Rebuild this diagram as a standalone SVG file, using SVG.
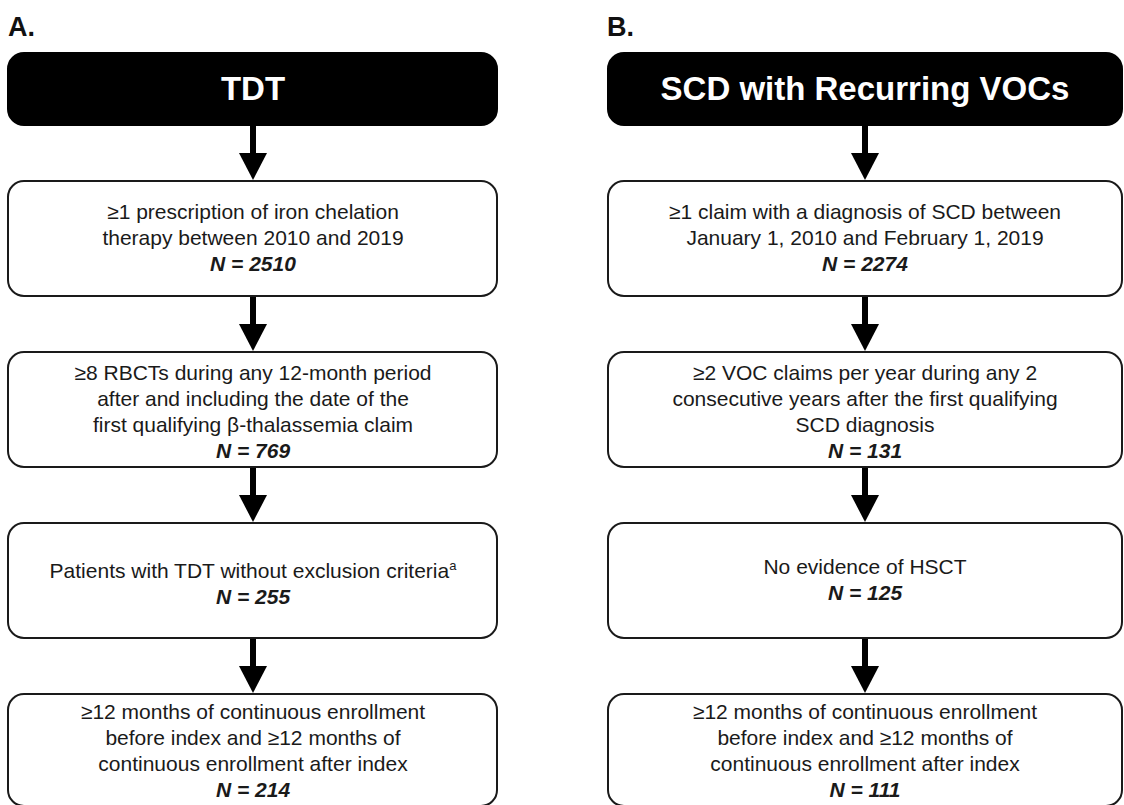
<svg xmlns="http://www.w3.org/2000/svg" width="1124" height="805" viewBox="0 0 1124 805">
<defs>
<style>
.lbl{font-family:"Liberation Sans",Arial,Helvetica,sans-serif;font-weight:bold;font-size:27px;fill:#111}
.hdr{fill:#000;stroke:#000;stroke-width:2}
.hdrt{font-family:"Liberation Sans",Arial,Helvetica,sans-serif;font-weight:bold;font-size:33px;fill:#fff;text-anchor:middle}
.box{fill:#fff;stroke:#1a1a1a;stroke-width:2}
.t{font-family:"Liberation Sans",Arial,Helvetica,sans-serif;font-size:21px;fill:#1a1a1a;text-anchor:middle}
.n{font-weight:bold;font-style:italic}
.sup{font-size:13px}
.con{stroke:#000;stroke-width:6;fill:none;marker-end:url(#ah)}
</style>
<marker id="ah" viewBox="0 0 27 28" refX="0" refY="14" markerWidth="27" markerHeight="28" markerUnits="userSpaceOnUse" orient="auto">
<path d="M0,0 L27,14 L0,28 Z" fill="#000"/>
</marker>
</defs>
<rect width="1124" height="805" fill="#fff"/>
<text class="lbl" x="8" y="36">A.</text>
<text class="lbl" x="607" y="36">B.</text>

<g id="connectors">
<line class="con" x1="253" y1="125" x2="253" y2="153"/>
<line class="con" x1="253" y1="296" x2="253" y2="324"/>
<line class="con" x1="253" y1="467" x2="253" y2="495"/>
<line class="con" x1="253" y1="638" x2="253" y2="666"/>
<line class="con" x1="865" y1="125" x2="865" y2="153"/>
<line class="con" x1="865" y1="296" x2="865" y2="324"/>
<line class="con" x1="865" y1="467" x2="865" y2="495"/>
<line class="con" x1="865" y1="638" x2="865" y2="666"/>
</g>

<g id="a-header">
<rect class="hdr" x="8" y="53" width="489" height="72" rx="16"/>
<text class="hdrt" x="253" y="100">TDT</text>
</g>
<g id="a1">
<rect class="box" x="8" y="181" width="489" height="115" rx="16"/>
<text class="t" x="253" y="219">≥1 prescription of iron chelation</text>
<text class="t" x="253" y="245">therapy between 2010 and 2019</text>
<text class="t n" x="253" y="271">N = 2510</text>
</g>
<g id="a2">
<rect class="box" x="8" y="352" width="489" height="115" rx="16"/>
<text class="t" x="253" y="380">≥8 RBCTs during any 12-month period</text>
<text class="t" x="253" y="406">after and including the date of the</text>
<text class="t" x="253" y="432">first qualifying β-thalassemia claim</text>
<text class="t n" x="253" y="458">N = 769</text>
</g>
<g id="a3">
<rect class="box" x="8" y="523" width="489" height="115" rx="16"/>
<text class="t" x="253" y="578">Patients with TDT without exclusion criteria<tspan class="sup" dy="-8">a</tspan></text>
<text class="t n" x="253" y="604">N = 255</text>
</g>
<g id="a4">
<rect class="box" x="8" y="694" width="489" height="112" rx="16"/>
<text class="t" x="253" y="719">≥12 months of continuous enrollment</text>
<text class="t" x="253" y="745">before index and ≥12 months of</text>
<text class="t" x="253" y="771">continuous enrollment after index</text>
<text class="t n" x="253" y="797">N = 214</text>
</g>

<g id="b-header">
<rect class="hdr" x="608" y="53" width="514" height="72" rx="16"/>
<text class="hdrt" x="865" y="100">SCD with Recurring VOCs</text>
</g>
<g id="b1">
<rect class="box" x="608" y="181" width="514" height="115" rx="16"/>
<text class="t" x="865" y="219">≥1 claim with a diagnosis of SCD between</text>
<text class="t" x="865" y="245">January 1, 2010 and February 1, 2019</text>
<text class="t n" x="865" y="271">N = 2274</text>
</g>
<g id="b2">
<rect class="box" x="608" y="352" width="514" height="115" rx="16"/>
<text class="t" x="865" y="380">≥2 VOC claims per year during any 2</text>
<text class="t" x="865" y="406">consecutive years after the first qualifying</text>
<text class="t" x="865" y="432">SCD diagnosis</text>
<text class="t n" x="865" y="458">N = 131</text>
</g>
<g id="b3">
<rect class="box" x="608" y="523" width="514" height="115" rx="16"/>
<text class="t" x="865" y="574">No evidence of HSCT</text>
<text class="t n" x="865" y="600">N = 125</text>
</g>
<g id="b4">
<rect class="box" x="608" y="694" width="514" height="112" rx="16"/>
<text class="t" x="865" y="719">≥12 months of continuous enrollment</text>
<text class="t" x="865" y="745">before index and ≥12 months of</text>
<text class="t" x="865" y="771">continuous enrollment after index</text>
<text class="t n" x="865" y="797">N = 111</text>
</g>
</svg>
